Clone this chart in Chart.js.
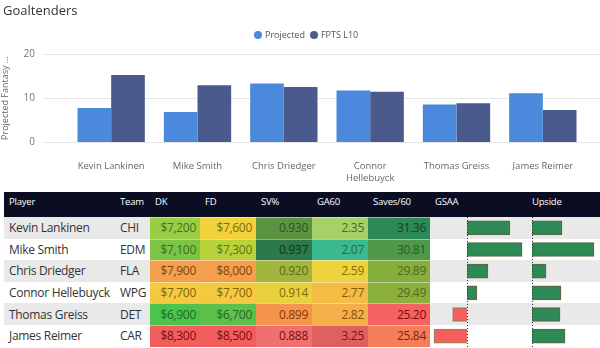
<!DOCTYPE html>
<html>
<head>
<meta charset="utf-8">
<script src="https://cdn.jsdelivr.net/npm/chart.js@4.4.0/dist/chart.umd.min.js"></script>
<style>
  body { margin: 0; width: 600px; height: 348px; background: #fff; position: relative; overflow: hidden; font-family: "Open Sans", sans-serif; }
  #title { position: absolute; left: 3px; top: 1px; font-size: 13px; color: #333; }
  #legend { position: absolute; top: 28px; left: 254px; font-size: 9px; color: #555; display: flex; align-items: center; }
  #legend .item { display: flex; align-items: center; margin-right: 5px; }
  #legend .dot { width: 8px; height: 8px; border-radius: 50%; margin-right: 3px; }
  #top { position: absolute; left: 0; top: 0; width: 600px; height: 190px; }
  table { position: absolute; left: 4px; top: 192px; width: 596px; border-collapse: collapse; table-layout: fixed; }
  th { background: #0b0e23; color: #fff; font-weight: normal; font-size: 9.5px; letter-spacing: -0.2px; text-align: left; vertical-align: top; height: 25px; padding: 3px 0 0 5px; box-sizing: border-box; }
  td { height: 21.6px; padding: 0 5px; font-size: 12px; letter-spacing: -0.3px; color: #333; white-space: nowrap; overflow: hidden; box-sizing: border-box; }
  td.num { text-align: right; padding-right: 4px; box-shadow: inset 0 1px 0 rgba(255,255,255,0.45); }
  tr:nth-child(even) td { background: #e9e9e9; }
  .bars { position: absolute; top: 217px; height: 130px; }
</style>
</head>
<body>
<div id="top"><canvas id="goalieChart"></canvas></div>
<div id="title">Goaltenders</div>
<div id="legend"></div>
<table id="tbl"></table>
<div class="bars" style="left:430px;width:97px"><canvas id="gsaaChart" width="97" height="130"></canvas></div>
<div class="bars" style="left:527px;width:73px"><canvas id="upsideChart" width="73" height="130"></canvas></div>
<script>
const players = ["Kevin Lankinen", "Mike Smith", "Chris Driedger", "Connor Hellebuyck", "Thomas Greiss", "James Reimer"];
const projected = [7.7, 6.8, 13.3, 11.7, 8.5, 11.1];
const fptsL10 = [15.2, 12.9, 12.5, 11.4, 8.8, 7.3];
const yTicks = [0, 10, 20];

const teams = ["CHI", "EDM", "FLA", "WPG", "DET", "CAR"];
const dk = [7200, 7100, 7900, 7700, 6900, 8300];
const fd = [7600, 7300, 8000, 7700, 6700, 8500];
const svPct = [0.930, 0.937, 0.920, 0.914, 0.899, 0.888];
const ga60 = [2.35, 2.07, 2.59, 2.77, 2.82, 3.25];
const saves60 = [31.36, 30.81, 29.89, 29.49, 25.20, 25.84];
const gsaa = [3.9, 5.0, 1.9, 0.9, -1.3, -3.0];
const upside = [3.0, 6.2, 1.4, 2.9, 2.8, 3.3];

const headers = ["Player", "Team", "DK", "FD", "SV%", "GA60", "Saves/60", "GSAA", "Upside"];
const colWidths = [111, 35, 50, 56, 56, 56, 62, 97, 73];

// conditional formatting colours (red-yellow-green)
const cellBg = {
    dk: ["#9acd46", "#7cc444", "#f5a04f", "#f5c842", "#4cc44c", "#f25d5d"],
    fd: ["#f2d23c", "#b8d33a", "#f59e4e", "#f5c842", "#5cc04a", "#f25d5d"],
    sv: ["#5a9440", "#2c7a4b", "#a2b53c", "#e8d13c", "#f5944d", "#f07070"],
    ga: ["#a6d06a", "#3ab88e", "#edd43c", "#f5bc45", "#f5af48", "#e06060"],
    sa: ["#2c8a56", "#4e9a48", "#86ae3c", "#8cb03c", "#f56262", "#f57e5a"],
};
const colProjected = "#4a89db";
const colFpts = "#4a5a8c";

// darker shade of the cell colour for the text
function darken(hex) {
    let r = parseInt(hex.slice(1, 3), 16) / 255, g = parseInt(hex.slice(3, 5), 16) / 255, b = parseInt(hex.slice(5, 7), 16) / 255;
    let max = Math.max(r, g, b), min = Math.min(r, g, b), h = 0, s = 0;
    let d = max - min, l = (max + min) / 2;
    if (d) {
        s = d / (1 - Math.abs(max + min - 1));
        if (max === r) h = ((g - b) / d) % 6;
        else if (max === g) h = (b - r) / d + 2;
        else h = (r - g) / d + 4;
        h *= 60;
    }
    let tl = Math.min(27, l * 100 - 19);
    return "hsl(" + h + "," + Math.min(100, s * 100) + "%," + tl + "%)";
}

// legend
[["Projected", colProjected], ["FPTS L10", colFpts]].forEach(([name, c]) => {
    let it = document.createElement("div");
    it.className = "item";
    it.innerHTML = '<span class="dot" style="background:' + c + '"></span>' + name;
    document.getElementById("legend").appendChild(it);
});

// horizontal gridlines run wider than the plot area, like the original
const wideGrid = {
    id: "wideGrid",
    beforeDatasetsDraw(chart) {
        let ctx = chart.ctx, y = chart.scales.y;
        ctx.save();
        ctx.strokeStyle = "#e6e6e6";
        ctx.lineWidth = 1;
        yTicks.forEach(v => {
            let py = Math.round(y.getPixelForValue(v)) + 0.5;
            ctx.beginPath();
            ctx.moveTo(43, py);
            ctx.lineTo(600, py);
            ctx.stroke();
        });
        ctx.restore();
    },
};

new Chart(document.getElementById("goalieChart"), {
    type: "bar",
    data: {
        labels: players,
        datasets: [
            { label: "Projected", data: projected, backgroundColor: colProjected },
            { label: "FPTS L10", data: fptsL10, backgroundColor: colFpts },
        ],
    },
    options: {
        responsive: true,
        maintainAspectRatio: false,
        animation: false,
        layout: { padding: { top: 54, right: 14, left: 0, bottom: 0 } },
        datasets: { bar: { categoryPercentage: 0.78, barPercentage: 1 } },
        plugins: { legend: { display: false }, tooltip: { enabled: false } },
        scales: {
            x: {
                grid: { display: false },
                border: { display: false },
                afterFit(s) { s.height = 48; },
                ticks: {
                    maxRotation: 0,
                    autoSkip: false,
                    padding: 11,
                    color: "#666",
                    font: { family: "Open Sans", size: 9.5 },
                    callback(v) {
                        let l = this.getLabelForValue(v);
                        return l.length > 15 ? l.split(" ") : l;
                    },
                },
            },
            y: {
                min: 0,
                max: 20,
                grid: { display: false, drawTicks: false },
                border: { display: false },
                afterFit(s) { s.width = 68; },
                afterBuildTicks(s) { s.ticks = yTicks.map(v => ({ value: v })); },
                ticks: { padding: 33, color: "#777", font: { family: "Open Sans", size: 10 } },
                title: {
                    display: true,
                    text: "Projected Fantasy ...",
                    color: "#666",
                    padding: { top: 0, bottom: 0 },
                    font: { family: "Open Sans", size: 9 },
                },
            },
        },
    },
    plugins: [wideGrid],
});

// table
let html = "<colgroup>" + colWidths.map(w => '<col style="width:' + w + 'px">').join("") + "</colgroup>";
html += "<tr>" + headers.map(h => "<th>" + h + "</th>").join("") + "</tr>";
function numCell(txt, bg) {
    return '<td class="num" style="background:' + bg + ";color:" + darken(bg) + '">' + txt + "</td>";
}
players.forEach((p, i) => {
    html += "<tr>";
    html += "<td>" + p + "</td><td>" + teams[i] + "</td>";
    html += numCell("$" + dk[i].toLocaleString("en-US"), cellBg.dk[i]);
    html += numCell("$" + fd[i].toLocaleString("en-US"), cellBg.fd[i]);
    html += numCell(svPct[i].toFixed(3), cellBg.sv[i]);
    html += numCell(ga60[i].toFixed(2), cellBg.ga[i]);
    html += numCell(saves60[i].toFixed(2), cellBg.sa[i]);
    html += "<td></td><td></td></tr>";
});
document.getElementById("tbl").innerHTML = html;

// data bars inside the GSAA and Upside columns
const zeroLine = {
    id: "zeroLine",
    afterDatasetsDraw(chart) {
        let ctx = chart.ctx, x = Math.round(chart.scales.x.getPixelForValue(0)) + 0.5;
        ctx.save();
        ctx.strokeStyle = "#333";
        ctx.lineWidth = 1;
        ctx.setLineDash([1, 2]);
        ctx.beginPath();
        ctx.moveTo(x, 0);
        ctx.lineTo(x, chart.height);
        ctx.stroke();
        ctx.restore();
    },
};

function dataBars(id, values, min, max) {
    new Chart(document.getElementById(id), {
        type: "bar",
        data: {
            labels: players,
            datasets: [{
                data: values,
                backgroundColor: values.map(v => v < 0 ? "#f5605f" : "#2d8a55"),
                borderColor: values.map(v => v < 0 ? "#a67a5a" : "#566b48"),
                borderWidth: 1.5,
                barThickness: 14,
            }],
        },
        options: {
            indexAxis: "y",
            responsive: false,
            animation: false,
            layout: { padding: 0 },
            plugins: { legend: { display: false }, tooltip: { enabled: false } },
            scales: {
                x: { display: false, min: min, max: max },
                y: { display: false },
            },
        },
        plugins: [zeroLine],
    });
}
dataBars("gsaaChart", gsaa, -3.36, 5.45);
dataBars("upsideChart", upside, -0.5, 6.8);
</script>
</body>
</html>
